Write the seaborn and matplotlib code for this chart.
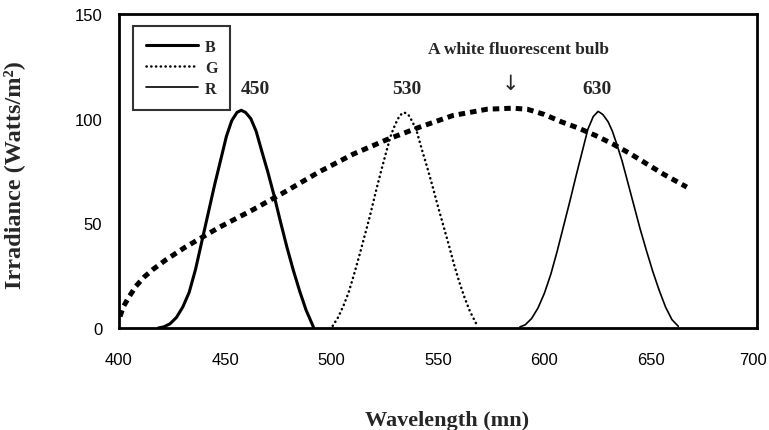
import matplotlib
matplotlib.use("Agg")
import matplotlib.pyplot as plt
import matplotlib.transforms as mtransforms
import seaborn as sns

sns.set_style("white")
plt.rcParams['font.family'] = ['Liberation Sans', 'DejaVu Sans']

# LED spectra (wavelength nm, irradiance W/m2)
b_nm = [418.5, 421, 424, 427, 430, 433, 436, 439, 442, 445, 448, 450.5, 453, 455.5,
        457.5, 459.5, 462, 464.5, 467, 470, 473, 476, 479, 482, 485, 488, 491.5]
b_val = [0, 0.5, 2, 5, 10, 17, 28, 41.5, 55, 68.5, 81, 91.5, 99, 103,
         104, 103, 100, 94, 85, 74.5, 63, 50.5, 38.5, 27.5, 17.5, 8.5, 0.3]

g_nm = [500.5, 503, 505.5, 508, 510.5, 513, 515.5, 518, 520.5, 523, 525.5, 528, 530, 532,
        534, 536, 538, 540, 542.5, 545, 547.5, 550, 552.5, 555, 557.5, 560, 562.5, 565, 568]
g_val = [1, 5, 10.5, 17, 25.5, 34.5, 44, 53.5, 64, 74, 83.5, 92.5, 97.5, 101.5,
         103, 102, 98.5, 94, 85, 76.5, 67.5, 58, 49, 40, 30.5, 22, 14.5, 8, 2]

r_nm = [588.5, 591, 594, 597, 600, 603, 606, 609, 612, 615, 618, 620.5, 623, 625.3,
        627.5, 630, 632, 634, 636.5, 639, 642, 645, 648, 651, 654, 657, 660, 663]
r_val = [0.5, 1.5, 4.5, 9.5, 16.5, 25.5, 36.5, 48.5, 60.5, 73, 85, 95, 101, 103.5,
         102, 98.5, 94, 88, 80, 70.5, 59, 47.5, 37, 27, 18, 10, 4, 0.8]

# white fluorescent bulb
bulb_nm = [400.5, 402, 404.5, 408, 412, 416, 422, 431, 447, 463, 478, 494, 510, 526,
           541.5, 557, 573, 585, 592, 600, 608, 616, 624, 632, 640, 648, 656, 667]
bulb_val = [5.5, 10, 14.5, 20, 24.5, 28, 32.5, 38.5, 48, 56.5, 65, 74.5, 83, 90,
            96, 101.5, 104.5, 105, 104.5, 102, 98.5, 95.5, 92, 88, 83.5, 78.5, 73.5, 67.3]

peak_labels = ["450", "530", "630"]
peak_x = [464, 535.4, 624.7]

fig = plt.figure(figsize=(7.69, 4.31), dpi=100)
ax = fig.add_axes([0.1547, 0.2367, 0.8297, 0.7285])

serif = ['Liberation Serif', 'DejaVu Serif']

sns.lineplot(x=bulb_nm, y=bulb_val, ax=ax, color='black', lw=3.6,
             linestyle=(0, (1.3, 1.0)), dash_capstyle='butt')
sns.lineplot(x=b_nm, y=b_val, ax=ax, color='black', lw=2.2, label='B')
sns.lineplot(x=g_nm, y=g_val, ax=ax, color='black', lw=1.8,
             linestyle=(0, (0.1, 1.8)), dash_capstyle='round', label='G')
sns.lineplot(x=r_nm, y=r_val, ax=ax, color='black', lw=1.2, label='R')

ax.set_xlim(400, 700)
ax.set_ylim(0, 150)
ax.set_xticks([400, 450, 500, 550, 600, 650, 700])
ax.set_yticks([0, 50, 100, 150])
ax.tick_params(axis='both', direction='in', length=5, width=1.6, labelsize=12,
               colors='black')
ax.tick_params(axis='x', pad=17)
ax.tick_params(axis='y', pad=12)
for s in ax.spines.values():
    s.set_color('black')
    s.set_linewidth(2.0)

# keep the last x tick label inside the figure
last = ax.get_xticklabels()[-1]
last.set_transform(last.get_transform() +
                   mtransforms.ScaledTranslation(-4 / 100, 0, fig.dpi_scale_trans))

ax.set_xlabel("Wavelength (mn)", family=serif, fontweight='bold', fontsize=16)
ax.set_ylabel("Irradiance (Watts/m²)", family=serif, fontweight='bold', fontsize=17.5)
ax.xaxis.set_label_coords(0.514, -0.261)
ax.yaxis.set_label_coords(-0.148, 0.489)

for lab, x in zip(peak_labels, peak_x):
    ax.text(x, 114.5, lab, ha='center', va='center', family=serif,
            fontweight='bold', fontsize=14)
ax.text(588, 133.3, "A white fluorescent bulb", ha='center', va='center',
        family=serif, fontweight='bold', fontsize=12.5)
ax.text(584.3, 117, "↓", ha='center', va='center', family=['DejaVu Sans'],
        fontsize=15)

leg = ax.legend(loc='upper left', bbox_to_anchor=(0.022, 0.962), borderaxespad=0,
                frameon=True, fancybox=False, handlelength=3.3, handletextpad=0.4,
                labelspacing=0.32, borderpad=0.8,
                prop={'family': serif, 'weight': 'bold', 'size': 11.5})
leg.get_frame().set_edgecolor('black')
leg.get_frame().set_linewidth(1.5)

fig.savefig("out.png", dpi=100)
